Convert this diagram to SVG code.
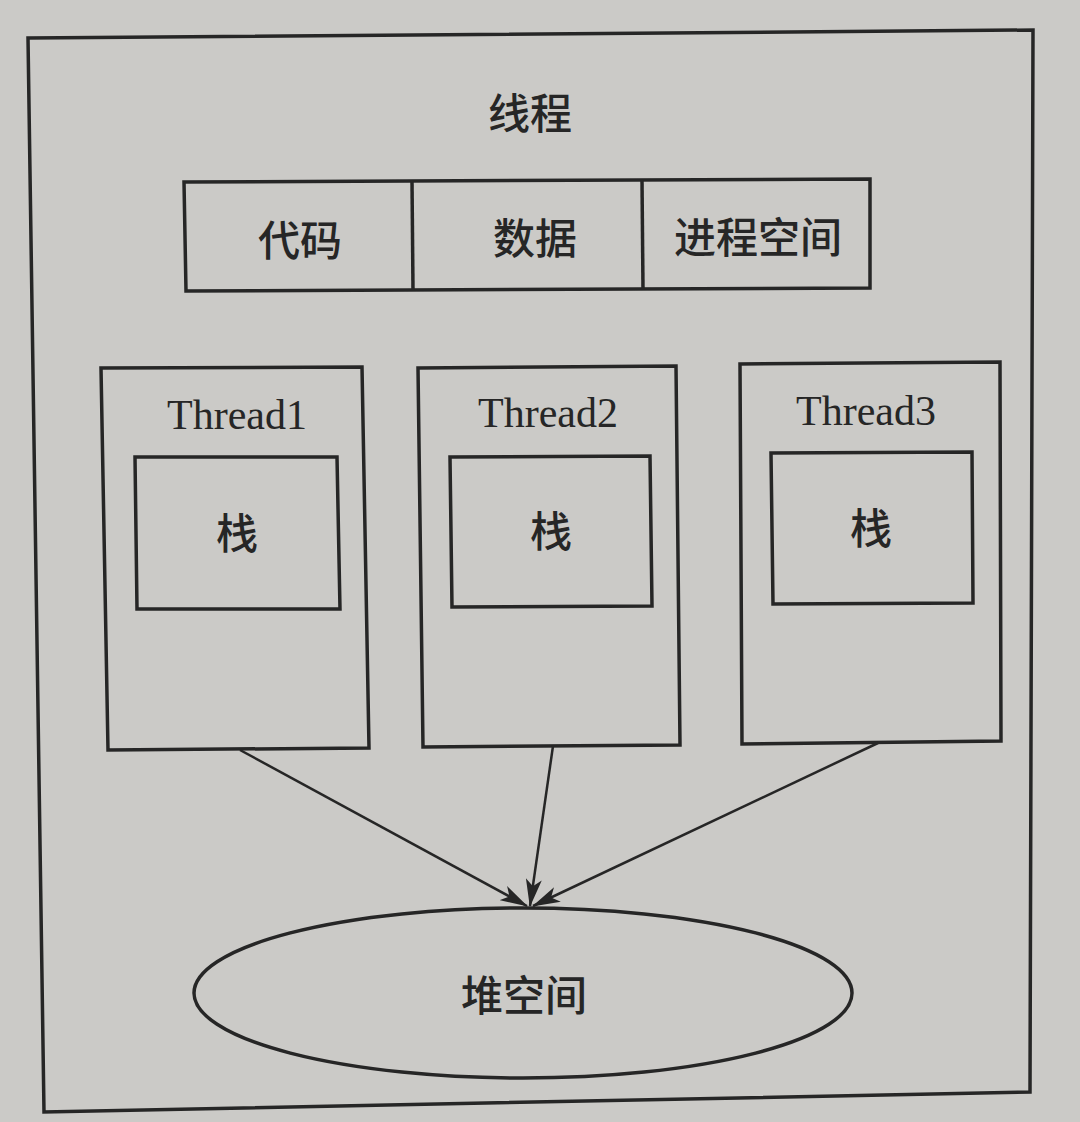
<svg xmlns="http://www.w3.org/2000/svg" width="1080" height="1122" viewBox="0 0 1080 1122">
<defs>
<style>
.ln{fill:none;stroke:#262626;stroke-width:3.5;stroke-linejoin:miter}
.cn{font-family:"Noto Sans CJK SC","Noto Sans",sans-serif;font-size:42px;font-weight:500;fill:#262626;text-anchor:middle;dominant-baseline:central}
.en{font-family:"Liberation Serif",serif;font-size:42px;fill:#262626;text-anchor:middle;dominant-baseline:central}
.ar{fill:none;stroke:#262626;stroke-width:2.5}
</style>
<marker id="ah" viewBox="0 0 28 16" refX="27" refY="8" markerWidth="28" markerHeight="16" markerUnits="userSpaceOnUse" orient="auto">
<path d="M0,0 L28,8 L0,16 L7,8 Z" fill="#262626"/>
</marker>
</defs>
<rect x="0" y="0" width="1080" height="1122" fill="#cbcac7"/>
<g id="frame">
<polygon class="ln" points="28,38 1033,30 1030,1092 44,1112" fill="#d3d2cf"/>
<text class="cn" x="530" y="110">线程</text>
</g>
<g id="process-bar">
<polygon class="ln" points="184,182 870,179 870,288 186,291"/>
<line class="ln" x1="412" y1="181" x2="413" y2="290"/>
<line class="ln" x1="642" y1="180" x2="643" y2="289"/>
<text class="cn" x="300" y="237">代码</text>
<text class="cn" x="535" y="235">数据</text>
<text class="cn" x="758" y="234">进程空间</text>
</g>
<g id="thread1">
<polygon class="ln" points="101,368 362,367 369,748 108,750"/>
<text class="en" x="237" y="415">Thread1</text>
<polygon class="ln" points="135,457 337,457 340,609 137,609"/>
<text class="cn" x="237" y="530">栈</text>
</g>
<g id="thread2">
<polygon class="ln" points="418,368 676,366 680,745 423,747"/>
<text class="en" x="548" y="413">Thread2</text>
<polygon class="ln" points="450,457 650,456 652,606 452,607"/>
<text class="cn" x="551" y="528">栈</text>
</g>
<g id="thread3">
<polygon class="ln" points="740,364 1000,362 1001,741 742,744"/>
<text class="en" x="866" y="411">Thread3</text>
<polygon class="ln" points="771,453 972,452 973,603 773,604"/>
<text class="cn" x="871" y="525">栈</text>
</g>
<g id="heap">
<ellipse class="ln" cx="523" cy="993" rx="329" ry="85"/>
<text class="cn" x="524" y="992">堆空间</text>
</g>
<g id="connectors">
<line class="ar" x1="240" y1="750" x2="527" y2="906" marker-end="url(#ah)"/>
<line class="ar" x1="553" y1="746" x2="530" y2="906" marker-end="url(#ah)"/>
<line class="ar" x1="878" y1="743" x2="533" y2="906" marker-end="url(#ah)"/>
</g>
</svg>
